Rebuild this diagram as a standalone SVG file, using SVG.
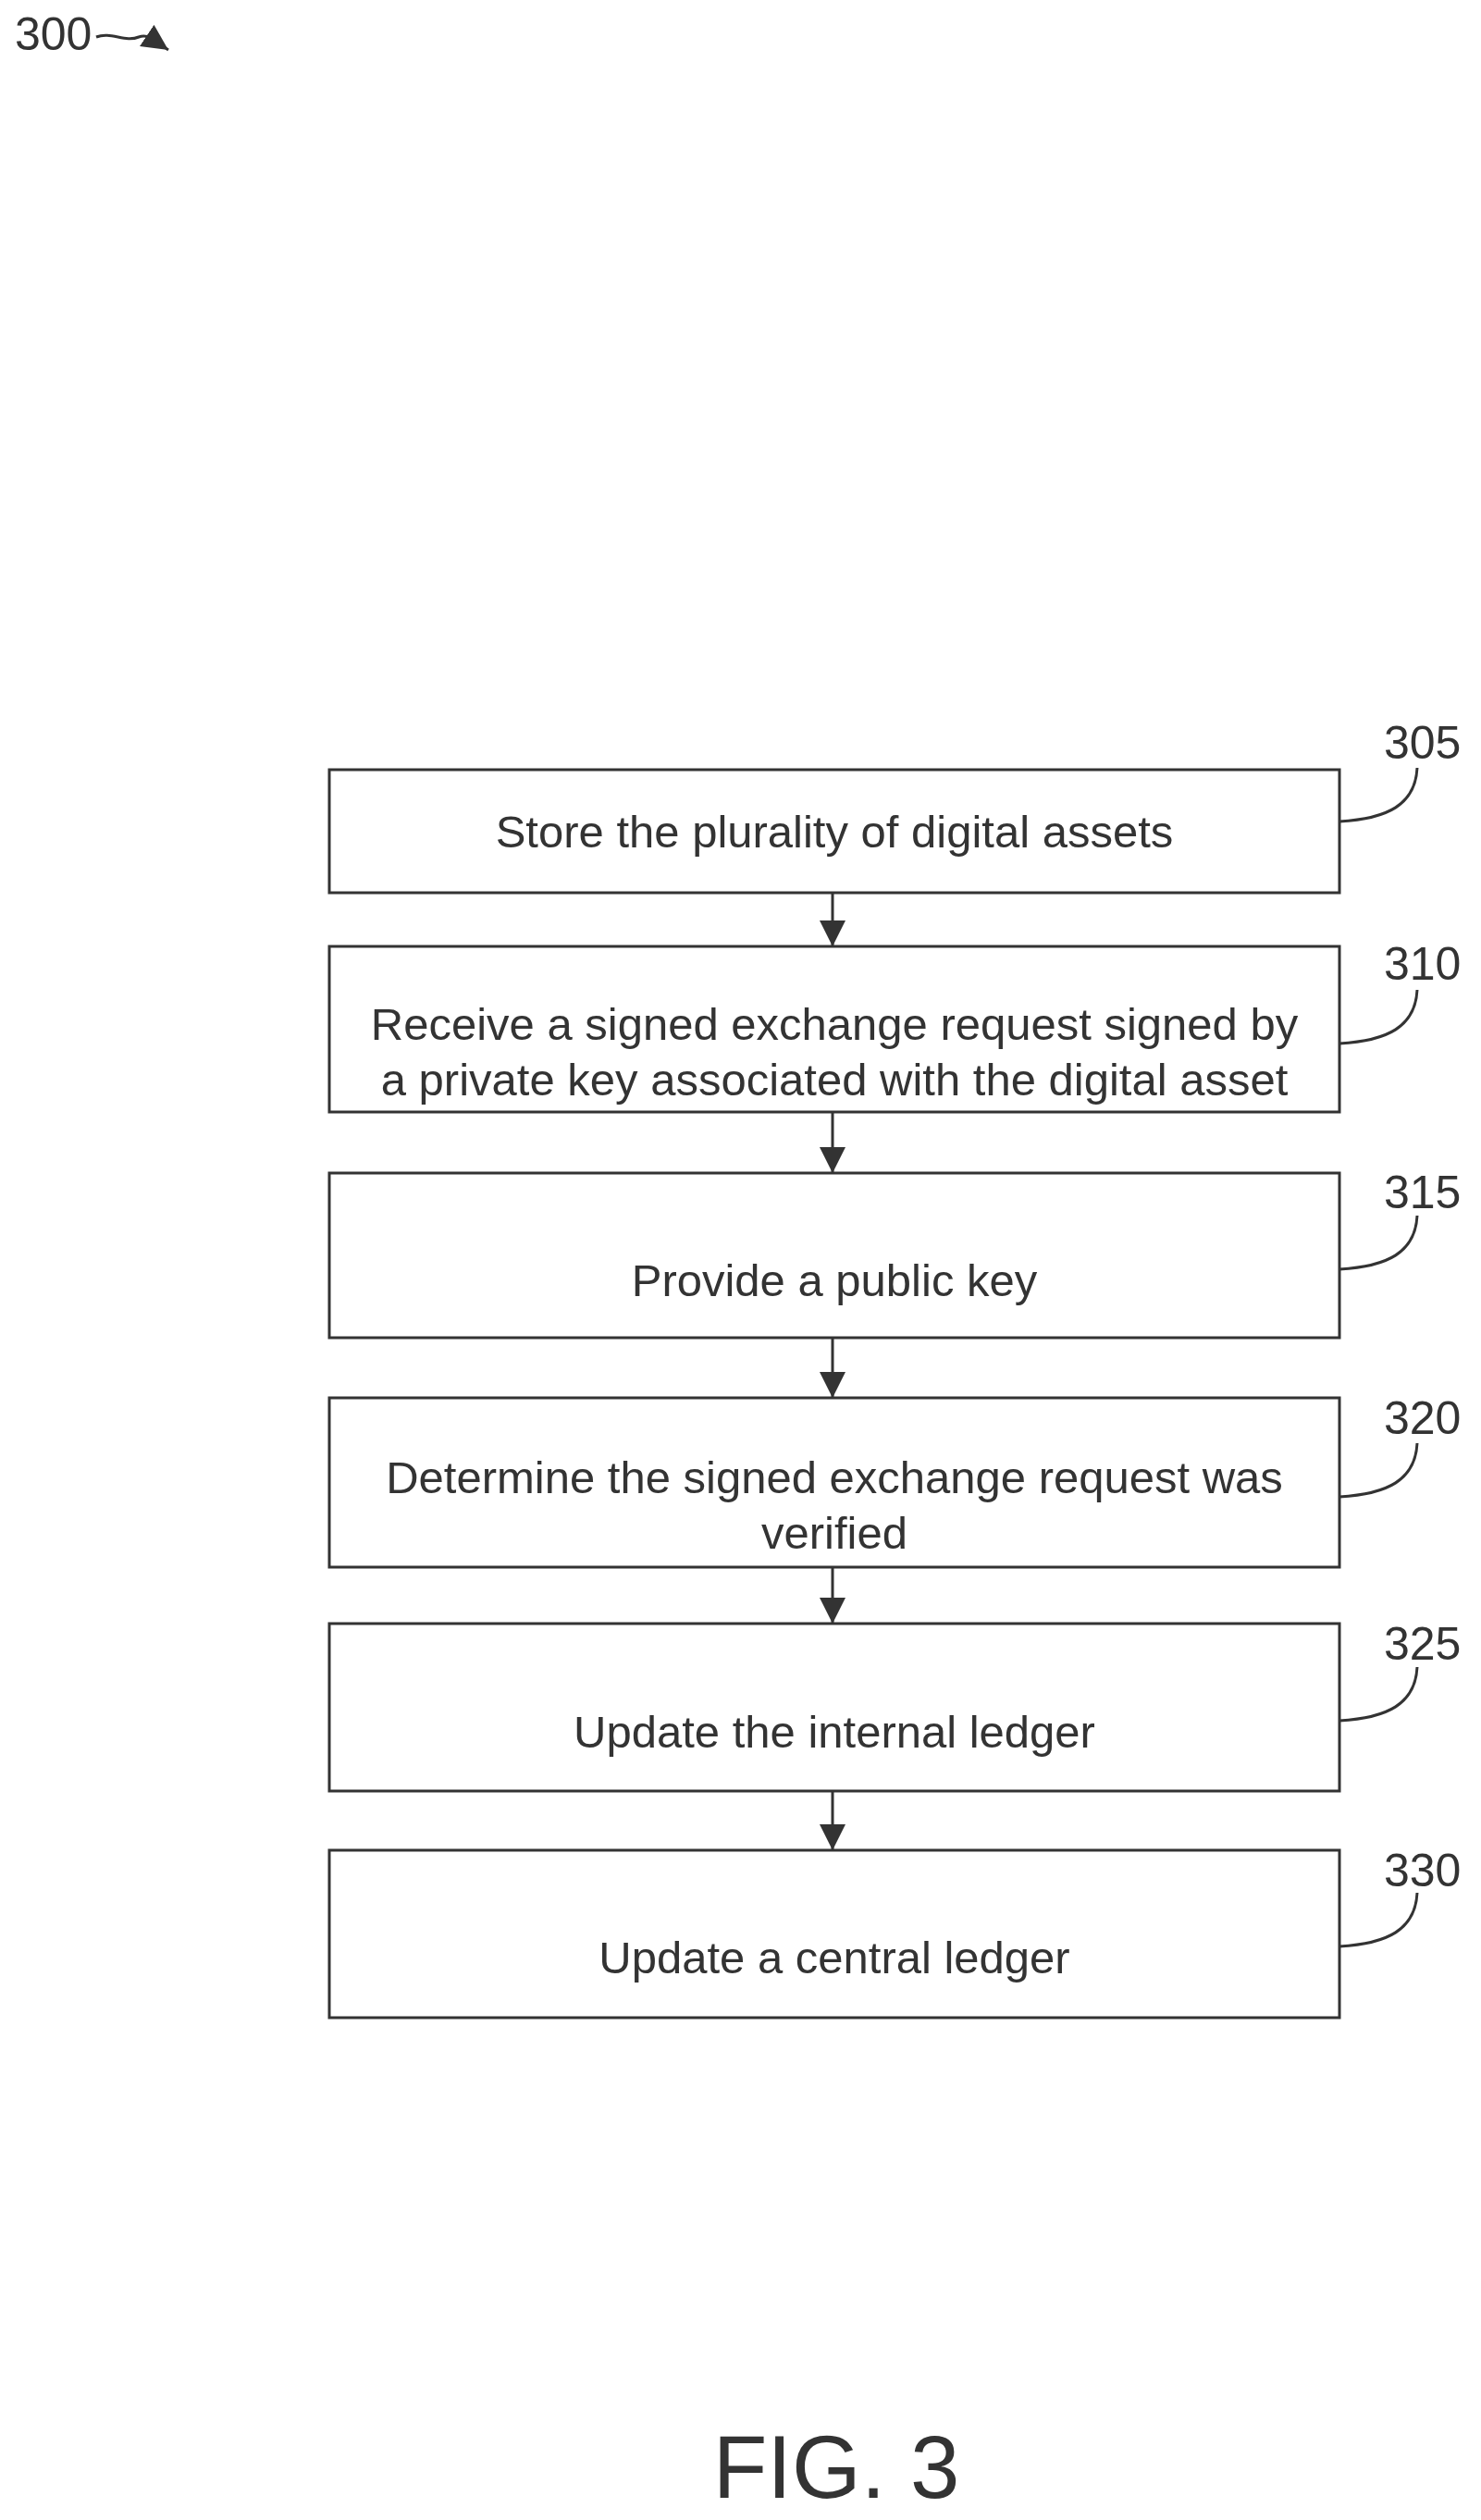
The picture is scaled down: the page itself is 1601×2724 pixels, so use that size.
<svg xmlns="http://www.w3.org/2000/svg" width="1601" height="2724" viewBox="0 0 1601 2724">
<style>
.b{fill:#fff;stroke:#333;stroke-width:3}
.t{font-family:"Liberation Sans",Arial,sans-serif;font-size:49px;fill:#333;text-anchor:middle}
.l{font-family:"Liberation Sans",Arial,sans-serif;font-size:50px;fill:#333}
.c{fill:none;stroke:#333;stroke-width:3}
</style>
<defs>
<marker id="m" viewBox="0 0 10 10" refX="10" refY="5" markerWidth="28" markerHeight="28" orient="auto" markerUnits="userSpaceOnUse"><path d="M0,0L10,5L0,10z" fill="#333"/></marker></defs>
<text class="l" x="16" y="54">300</text>
<path class="c" d="M104,40 C120,34 135,46 150,40 C162,36 170,46 182,54" marker-end="url(#m)"/>
<g id="n305"><rect class="b" x="356" y="832" width="1092" height="133"/><text class="t" x="902" y="916">Store the plurality of digital assets</text><text class="l" x="1496" y="820">305</text></g>
<g id="n310"><rect class="b" x="356" y="1023" width="1092" height="179"/><text class="t" x="902" y="1124">Receive a signed exchange request signed by</text><text class="t" x="902" y="1184">a private key associated with the digital asset</text><text class="l" x="1496" y="1059">310</text></g>
<g id="n315"><rect class="b" x="356" y="1268" width="1092" height="178"/><text class="t" x="902" y="1401">Provide a public key</text><text class="l" x="1496" y="1306">315</text></g>
<g id="n320"><rect class="b" x="356" y="1511" width="1092" height="183"/><text class="t" x="902" y="1614">Determine the signed exchange request was</text><text class="t" x="902" y="1674">verified</text><text class="l" x="1496" y="1550">320</text></g>
<g id="n325"><rect class="b" x="356" y="1755" width="1092" height="181"/><text class="t" x="902" y="1889">Update the internal ledger</text><text class="l" x="1496" y="1794">325</text></g>
<g id="n330"><rect class="b" x="356" y="2000" width="1092" height="181"/><text class="t" x="902" y="2133">Update a central ledger</text><text class="l" x="1496" y="2039">330</text></g>
<g id="connectors">
<path class="c" d="M900,965V1023" marker-end="url(#m)"/>
<path class="c" d="M900,1202V1268" marker-end="url(#m)"/>
<path class="c" d="M900,1446V1511" marker-end="url(#m)"/>
<path class="c" d="M900,1694V1755" marker-end="url(#m)"/>
<path class="c" d="M900,1936V2000" marker-end="url(#m)"/>
<path class="c" d="M1448,888 C1500,885 1530,870 1532,830"/>
<path class="c" d="M1448,1128 C1500,1125 1530,1110 1532,1070"/>
<path class="c" d="M1448,1372 C1500,1369 1530,1354 1532,1314"/>
<path class="c" d="M1448,1618 C1500,1615 1530,1600 1532,1560"/>
<path class="c" d="M1448,1860 C1500,1857 1530,1842 1532,1802"/>
<path class="c" d="M1448,2104 C1500,2101 1530,2086 1532,2046"/>
</g>
<text x="904" y="2700" style="font-family:'Liberation Sans',Arial,sans-serif;font-size:96px;fill:#333;text-anchor:middle">FIG. 3</text>
</svg>
